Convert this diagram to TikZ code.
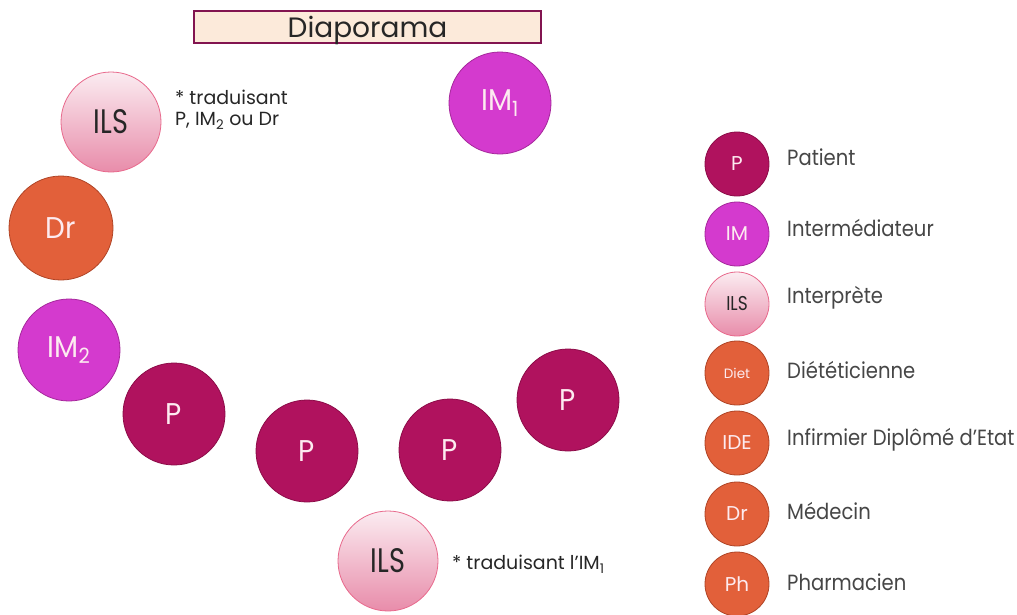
\documentclass[tikz,border=0pt]{standalone}
\usepackage{fontspec}
\setmainfont{Poppins}
\usepackage{graphicx}
\definecolor{pcol}{RGB}{176,18,94}
\definecolor{pbord}{RGB}{140,12,72}
\definecolor{imcol}{RGB}{212,58,206}
\definecolor{imbord}{RGB}{165,40,155}
\definecolor{orcol}{RGB}{226,96,58}
\definecolor{orbord}{RGB}{175,68,38}
\definecolor{ilstop}{RGB}{251,236,241}
\definecolor{ilsbot}{RGB}{232,140,170}
\definecolor{ilsbord}{RGB}{232,105,140}
\definecolor{boxfill}{RGB}{252,234,218}
\definecolor{boxbord}{RGB}{130,20,80}
\definecolor{txt}{RGB}{70,70,70}
\definecolor{lbl}{RGB}{253,235,240}
\newcommand{\sq}[1]{\scalebox{0.89}[1]{#1}}
\newcommand{\bq}[1]{\scalebox{0.93}[1]{#1}}
\tikzset{
  big/.style={circle, minimum size=102pt, inner sep=0pt, line width=0.8pt},
  small/.style={circle, minimum size=64pt, inner sep=0pt, line width=0.8pt},
  pnode/.style={fill=pcol, draw=pbord, text=lbl},
  imnode/.style={fill=imcol, draw=imbord, text=lbl},
  ornode/.style={fill=orcol, draw=orbord, text=lbl},
  ilsnode/.style={top color=ilstop, bottom color=ilsbot, draw=ilsbord, text=black!85},
  legtxt/.style={anchor=west, inner sep=0pt, text=txt, font=\fontsize{22}{24}\selectfont},
  note/.style={anchor=west, inner sep=0pt, text=black!85, align=left, font=\fontsize{19}{23}\selectfont},
  bigtxt/.style={font=\fontsize{30}{32}\selectfont},
  smtxt/.style={font=\fontsize{20}{22}\selectfont}
}
\begin{document}
\begin{tikzpicture}[x=1pt,y=-1pt]
\useasboundingbox (0,0) rectangle (1017,614);
% title
\node[draw=boxbord, fill=boxfill, line width=2pt, minimum width=347pt, minimum height=32pt, inner sep=0pt, text=black!85] (title) at (367.5,26.5) {};
\node[font=\fontsize{28}{30}\selectfont, text=black!85, anchor=base, inner sep=0pt] (titletxt) at (367.5,37) {Diaporama};
% main circles
\node[big, ilsnode, minimum size=100pt, font=\fontsize{34}{36}\selectfont] (ils1) at (111,122) {\scalebox{0.8}[1]{ILS}};
\node[big, imnode, bigtxt] (im1) at (500,103) {\bq{IM\textsubscript{1}}};
\node[big, ornode, minimum size=104pt, bigtxt] (dr) at (61,228) {\bq{Dr}};
\node[big, imnode, bigtxt] (im2) at (69,350) {\bq{IM\textsubscript{2}}};
\node[big, pnode, bigtxt] (p1) at (174,414) {\bq{P}};
\node[big, pnode, bigtxt] (p2) at (307,451) {\bq{P}};
\node[big, pnode, bigtxt] (p3) at (450,450) {\bq{P}};
\node[big, pnode, bigtxt] (p4) at (568,400) {\bq{P}};
\node[big, ilsnode, minimum size=100pt, font=\fontsize{34}{36}\selectfont] (ils2) at (388,561) {\scalebox{0.8}[1]{ILS}};
% notes
\node[note] (n1) at (175,110) {* traduisant\\[-2pt]P, IM\textsubscript{2} ou Dr};
\node[note] (n2) at (452,564) {* traduisant l’IM\textsubscript{1}};
% legend
\node[small, pnode, smtxt] (lp) at (737,164) {P};
\node[small, imnode, smtxt] (lim) at (737,234) {IM};
\node[small, ilsnode, smtxt] (lils) at (737,304) {\scalebox{0.85}[1]{ILS}};
\node[small, ornode, font=\fontsize{13.5}{15}\selectfont] (ldiet) at (737,373) {Diet};
\node[small, ornode, smtxt] (lide) at (737,443) {IDE};
\node[small, ornode, smtxt] (ldr) at (737,514) {Dr};
\node[small, ornode, smtxt] (lph) at (737,584) {Ph};
\node[legtxt] (tp) at (787,157) {\sq{Patient}};
\node[legtxt] (tim) at (787,228) {\sq{Intermédiateur}};
\node[legtxt] (tils) at (787,298) {\sq{Interprète}};
\node[legtxt] (tdiet) at (787,370) {\sq{Diététicienne}};
\node[legtxt] (tide) at (787,440) {\sq{Infirmier Diplômé d’Etat}};
\node[legtxt] (tdr) at (787,511) {\sq{Médecin}};
\node[legtxt] (tph) at (787,582) {\sq{Pharmacien}};
\end{tikzpicture}
\end{document}
